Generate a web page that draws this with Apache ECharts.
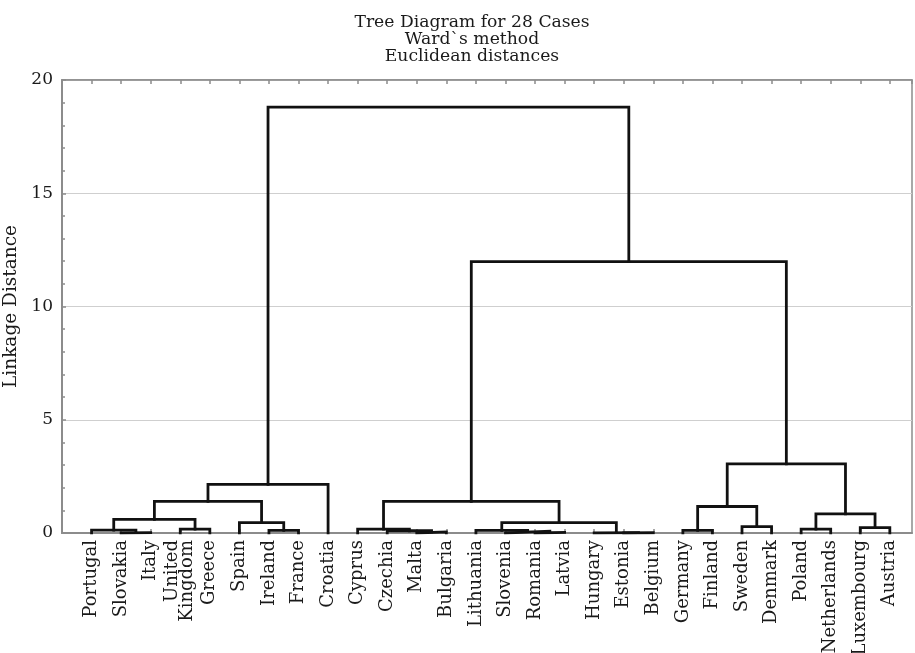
<!DOCTYPE html>
<html>
<head>
<meta charset="utf-8">
<script src="https://cdn.jsdelivr.net/npm/echarts@6/dist/echarts.min.js"></script>
<style>
html,body{margin:0;padding:0;background:#fff;}
#chart{width:915px;height:653px;}
</style>
</head>
<body>
<div id="chart"></div>
<script>
// Leaf order (left to right)
const caseLabels = ['Portugal','Slovakia','Italy','United\nKingdom','Greece','Spain','Ireland','France','Croatia',
  'Cyprus','Czechia','Malta','Bulgaria','Lithuania','Slovenia','Romania','Latvia','Hungary','Estonia',
  'Belgium','Germany','Finland','Sweden','Denmark','Poland','Netherlands','Luxembourg','Austria'];
// Merge steps: ids 0..27 are leaves, merge k creates node 28+k
const mergeLeft   = [1, 0, 3, 29, 6, 5, 31, 34, 11, 10, 9, 15, 14, 13, 18, 17, 41, 38, 20, 22, 46, 24, 26, 49, 48, 45, 35];
const mergeRight  = [2, 28, 4, 30, 7, 32, 33, 8, 12, 36, 37, 16, 39, 40, 19, 42, 43, 44, 21, 23, 47, 25, 27, 50, 51, 52, 53];
const mergeHeight = [0.02, 0.13, 0.17, 0.6, 0.12, 0.46, 1.4, 2.15, 0.05, 0.1, 0.17, 0.03, 0.08, 0.12, 0.01, 0.02, 0.46, 1.4,
  0.12, 0.28, 1.17, 0.17, 0.24, 0.84, 3.05, 11.98, 18.8];
const yTicks = [0, 5, 10, 15, 20];
const titleLines = ['Tree Diagram for 28 Cases', 'Ward`s method', 'Euclidean distances'];

const nodeX = caseLabels.map((_, i) => i + 1);
const nodeH = caseLabels.map(() => 0);
const series = [];
for (let k = 0; k < mergeLeft.length; k++) {
  const a = mergeLeft[k], b = mergeRight[k], h = mergeHeight[k];
  series.push({
    type: 'line', symbol: 'none', silent: true, animation: false, z: 5,
    lineStyle: {color: '#111', width: 2.8, cap: 'square', join: 'miter'},
    data: [[nodeX[a], nodeH[a]], [nodeX[a], h], [nodeX[b], h], [nodeX[b], nodeH[b]]]
  });
  nodeX.push((nodeX[a] + nodeX[b]) / 2);
  nodeH.push(h);
}

const FONT = 'DejaVu Serif';
const xMax = 28.75;
const chart = echarts.init(document.getElementById('chart'), null, {renderer: 'canvas'});
chart.setOption({
  animation: false,
  backgroundColor: '#fff',
  title: {
    text: titleLines.join('\n'),
    left: 467, top: 9, textAlign: 'center',
    textStyle: {fontFamily: FONT, fontSize: 17.2, fontWeight: 'normal', color: '#1a1a1a', lineHeight: 17}
  },
  grid: {left: 62, right: 3, top: 80, bottom: 120, containLabel: false, outerBoundsMode: 'none',
    show: true, borderColor: '#8c8c8c', borderWidth: 1.5},
  xAxis: [{
    type: 'value', min: 0, max: xMax, interval: 1, position: 'bottom',
    axisLine: {show: true, onZero: false, lineStyle: {color: '#8c8c8c', width: 2}},
    axisTick: {show: true, inside: true, length: 4, lineStyle: {color: '#8c8c8c', width: 1.5}},
    splitLine: {show: false},
    axisLabel: {
      rotate: 90, margin: 7, fontFamily: FONT, fontSize: 18, color: '#1a1a1a', lineHeight: 15,
      showMinLabel: true, showMaxLabel: false,
      formatter: v => (Number.isInteger(v) && v >= 1 && v <= caseLabels.length) ? caseLabels[v - 1] : ''
    }
  }, {
    type: 'value', min: 0, max: xMax, interval: 1, position: 'top',
    axisLine: {show: true, onZero: false, lineStyle: {color: '#8c8c8c', width: 1.5}},
    axisTick: {show: true, inside: true, length: 4, lineStyle: {color: '#8c8c8c', width: 1.5}},
    splitLine: {show: false}, axisLabel: {show: false}
  }],
  yAxis: [{
    type: 'value', min: yTicks[0], max: yTicks[yTicks.length - 1], interval: 5,
    name: 'Linkage Distance', nameLocation: 'middle', nameGap: 32, nameRotate: 90,
    nameTextStyle: {fontFamily: FONT, fontSize: 18.5, color: '#1a1a1a'},
    axisLine: {show: true, lineStyle: {color: '#8c8c8c', width: 2}},
    axisTick: {show: true, inside: true, length: 4, lineStyle: {color: '#8c8c8c', width: 1.5}},
    minorTick: {show: true, splitNumber: 5, length: 3, lineStyle: {color: '#8c8c8c', width: 1.5}},
    splitLine: {show: true, lineStyle: {color: '#cfcfcf', width: 1}},
    axisLabel: {margin: 9, fontFamily: FONT, fontSize: 17, color: '#1a1a1a'}
  }],
  series: series
});
</script>
</body>
</html>
